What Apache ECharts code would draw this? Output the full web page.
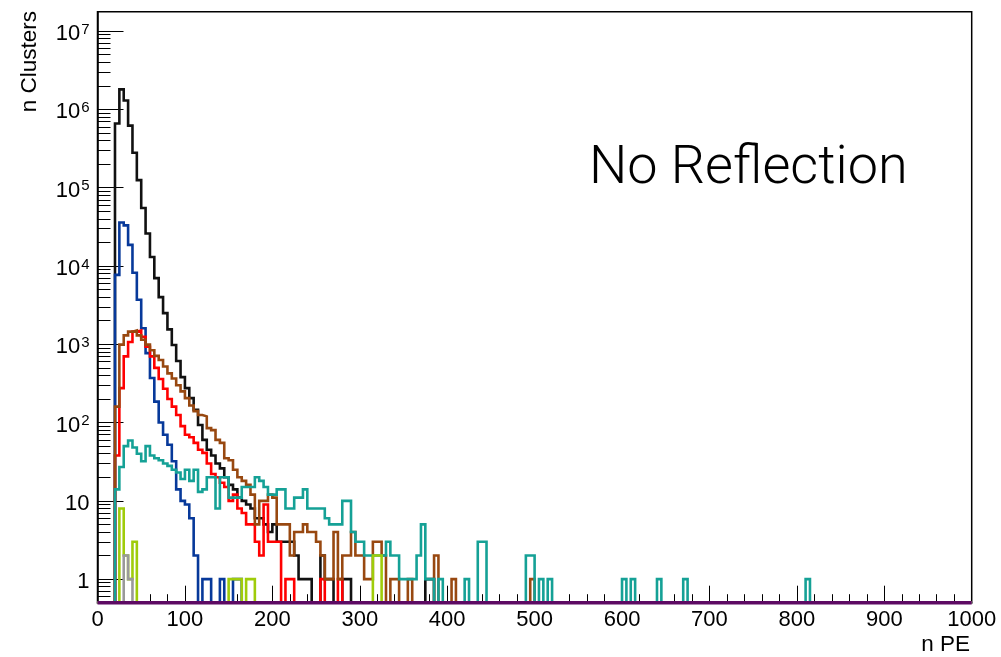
<!DOCTYPE html>
<html><head><meta charset="utf-8">
<script src="https://cdn.jsdelivr.net/npm/echarts@6/dist/echarts.min.js"></script>
<style>html,body{margin:0;padding:0;background:#fff}#c{width:1001px;height:657px}</style>
</head><body><div id="c"></div>
<script>
// histogram binning (n PE)
const binWidth = 5;
const xMin = 0, xMax = 1000;
const yMin = 0.5, yMax = 1.77e7;
const xTitle = 'n PE';
const yTitle = 'n Clusters';
const annotation = 'No Reflection';

// bin contents, index = bin number (bin k covers [5k, 5k+5))
const blackCounts = [0,0,0,0,
  660000,1800000,1300000,620000,280000,125000,55000,26000,13000,7000,4000,2500,1550,980,610,380,275,205,145,93,60,
  45,38,30,26,20,16,14,11,10,9,8,6,6,5,4,5,3,3,3,3,2,1,1,1,
  0,0,2,1,1,0,0,1,1,
  0,0,0,0,0,0,0,0,0,0,0,0,0,0,0,0,0,
  1,1];
const blueCounts = [0,0,0,0,
  7700,36000,33000,18600,8200,3700,1600,770,370,185,100,70,52,32,14,10,9,6,2,0,1,1,0,0,1,0,0,1,1];
const redCounts = [0,0,0,0,
  38,275,700,1070,1450,1500,1250,930,700,500,360,270,200,160,125,90,70,65,55,45,41,30,22,20,17,15,10,12,8,7,5,5,3,2,9,3,3,3,0,1,1,
  0,0,0,0,0,0,1,0,0,0,1];
const brownCounts = [0,0,0,0,
  160,990,1300,1450,1500,1300,1140,990,840,710,630,520,425,365,300,250,205,165,140,125,120,85,80,60,55,35,33,25,20,18,16,12,
  5,10,10,12,11,5,5,5,2,4,4,5,4,4,3,2,1,1,4,1,2,2,4,2,2,1,1,3,3,2,0,1,1,0,0,1,0,0,0,0,0,2,0,0,0,1,
  0,0,0,0,0,0,0,0,0,0,0,0,0,0,0,0,0,1];
const tealCounts = [0,0,0,0,
  14,27,50,59,48,40,32,50,38,35,33,30,28,25,23,19,25,18,25,13,14,20,20,8,20,20,11,11,11,15,15,15,
  20,18,15,12,12,14,14,8,8,11,11,14,8,8,8,8,6,5,5,5,10,10,4,3,3,2,2,2,2,2,
  3,2,2,1,1,1,1,2,5,1,1,0,1,0,0,0,0,0,1,0,0,3,3,
  0,0,0,0,0,0,0,0,0,2,2,0,1,0,1,
  0,0,0,0,0,0,0,0,0,0,0,0,0,0,0,0,1,0,1,0,0,0,0,0,1,0,0,0,0,0,1,
  0,0,0,0,0,0,0,0,0,0,0,0,0,0,0,0,0,0,0,0,0,0,0,0,0,0,0,1];
const limeCounts = [0,0,0,0,0,8,2,1,3,
  0,0,0,0,0,0,0,0,0,0,0,0,0,0,0,0,0,0,0,0,0,
  1,1,1,0,1,1,
  0,0,0,0,0,0,0,0,0,0,0,0,0,0,0,0,0,0,0,0,0,0,0,0,0,0,0,
  2,2];
const grayCounts = [0,0,0,0,0,0,2,1];
const purpleCounts = []; // empty histogram, drawn on the lower frame edge

const nBins = (xMax - xMin) / binWidth;

function stepPoints(counts) {
  const pts = [];
  for (let k = 0; k < nBins; k++) {
    const c = counts[k] || 0;
    pts.push([xMin + k * binWidth, c > 0 ? c : yMin]);
  }
  pts.push([xMax, yMin]);
  return pts;
}

const seriesDefs = [
  {name: 'black', counts: blackCounts, color: '#111111'},
  {name: 'blue', counts: blueCounts, color: '#07399a'},
  {name: 'red', counts: redCounts, color: '#ff0000'},
  {name: 'brown', counts: brownCounts, color: '#984810'},
  {name: 'teal', counts: tealCounts, color: '#15a196'},
  {name: 'lime', counts: limeCounts, color: '#9fcc0a'},
  {name: 'gray', counts: grayCounts, color: '#999999'},
  {name: 'purple', counts: purpleCounts, color: '#5d0a63', width: 3.4}
];

const minorLogTicks = [];
for (let n = -1; n <= 7; n++) {
  for (let m = 2; m <= 9; m++) {
    const v = m * Math.pow(10, n);
    if (v > yMin && v < yMax) minorLogTicks.push(Math.log10(v));
  }
}

const FONT = 'Liberation Sans, Arial, Helvetica, sans-serif';
const chart = echarts.init(document.getElementById('c'), null, {renderer: 'canvas'});
chart.setOption({
  animation: false,
  backgroundColor: '#ffffff',
  grid: {left: 97.5, right: 29.3, top: 11.7, bottom: 54.3, show: true,
         borderColor: '#000', borderWidth: 1.5, backgroundColor: 'transparent'},
  xAxis: {
    type: 'value', min: xMin, max: xMax, interval: 100,
    axisLine: {onZero: false, lineStyle: {color: '#000', width: 1.5}},
    axisTick: {inside: true, length: 17, lineStyle: {color: '#000', width: 1}},
    minorTick: {show: true, splitNumber: 5, length: 8.5, lineStyle: {color: '#000', width: 1}},
    axisLabel: {fontSize: 22, color: '#000', margin: 6, fontFamily: FONT, formatter: v => String(v)},
    splitLine: {show: false}, minorSplitLine: {show: false}
  },
  yAxis: [{
    type: 'log', logBase: 10, min: yMin, max: yMax,
    axisLine: {lineStyle: {color: '#000', width: 1.5}},
    axisTick: {inside: true, length: 26, lineStyle: {color: '#000', width: 1}},
    splitLine: {show: false},
    axisLabel: {
      color: '#000', margin: 8, fontFamily: FONT, showMinLabel: false, showMaxLabel: false,
      formatter: function (v) {
        const l = Math.log10(v);
        const e = Math.round(l);
        if (Math.abs(l - e) > 1e-6) return '';
        if (e === 0) return '{b|1}';
        if (e === 1) return '{b|10}';
        return '{b|10}{s|' + e + '}';
      },
      rich: {
        b: {fontSize: 22, lineHeight: 28, padding: [5, 0, 0, 0], verticalAlign: 'bottom', fontFamily: FONT, color: '#000'},
        s: {fontSize: 15, lineHeight: 15, padding: [5, 0, 0, 1], verticalAlign: 'top', fontFamily: FONT, color: '#000'}
      }
    }
  }, {
    type: 'value', min: Math.log10(yMin), max: Math.log10(yMax), position: 'left',
    axisLine: {show: false}, axisLabel: {show: false}, splitLine: {show: false},
    axisTick: {show: true, inside: true, length: 13, customValues: minorLogTicks, lineStyle: {color: '#000', width: 1}}
  }],
  graphic: [
    {type: 'text', x: 30, y: 11, rotation: Math.PI / 2,
     style: {text: yTitle, fontSize: 22.5, fontFamily: FONT, fill: '#000', align: 'right', verticalAlign: 'middle'}},
    {type: 'text', x: 970, y: 645,
     style: {text: xTitle, fontSize: 22.5, fontFamily: FONT, fill: '#000', align: 'right', verticalAlign: 'middle'}},
    {type: 'text', x: 589, y: 169,
     style: {text: annotation, fontSize: 54, fontWeight: 300, fontFamily: 'Roboto, Lato, sans-serif', fill: '#000', align: 'left', verticalAlign: 'middle'}}
  ],
  series: seriesDefs.map(d => ({
    name: d.name, type: 'line', step: 'end', yAxisIndex: 0,
    data: stepPoints(d.counts), showSymbol: false, symbol: 'none',
    clip: d.name !== 'purple',
    lineStyle: {color: d.color, width: d.width || 2.6, join: 'miter', cap: 'butt'},
    emphasis: {disabled: true}, silent: true
  }))
});
</script></body></html>
